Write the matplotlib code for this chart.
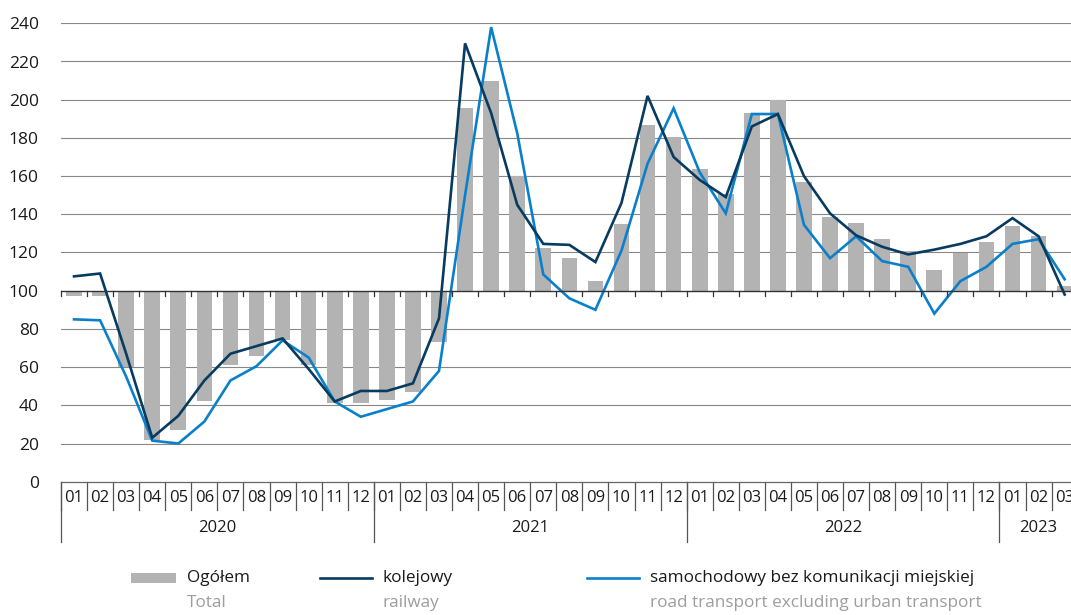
import matplotlib
matplotlib.use("Agg")
import matplotlib.pyplot as plt
from matplotlib.patches import Rectangle
from matplotlib.lines import Line2D
import numpy as np

plt.rcParams['font.family'] = ['Open Sans', 'DejaVu Sans']

months = ['01', '02', '03', '04', '05', '06', '07', '08', '09', '10', '11', '12'] * 3 + ['01', '02', '03']
years = ['2020', '2021', '2022', '2023']
year_lengths = [12, 12, 12, 3]

ogolem = [97, 97, 60, 22, 27, 42, 61, 66, 74, 61, 41, 41,
          43, 47, 73, 195.5, 210, 160, 122.5, 117, 105, 135, 187, 180.5,
          163.5, 150.5, 193, 200, 157, 138.5, 135.5, 127, 121, 111, 120, 125.5,
          134, 128.5, 102.5]

kolejowy = [107.5, 109, 67, 23, 34.5, 53, 67, 71, 75, 59, 42, 47.5,
            47.5, 51.5, 85.5, 229.5, 193, 145, 124.5, 124, 115, 146, 202, 170,
            158, 149, 186, 192.5, 160, 140.5, 129, 123, 119, 121.5, 124.5, 128.5,
            138, 128.5, 98]

samochodowy = [85, 84.5, 55, 21.5, 20, 31.5, 53, 60.5, 74, 65, 42, 34,
               38, 42, 58, 150, 238, 182.5, 108.5, 96, 90, 121, 166.5, 195.5,
               162, 140.5, 192.5, 192.5, 134.5, 117, 128.5, 115.5, 112.5, 88, 105, 112.5,
               124.5, 127, 106]

legend_pl = ['Ogółem', 'kolejowy', 'samochodowy bez komunikacji miejskiej']
legend_en = ['Total', 'railway', 'road transport excluding urban transport']

BAR = '#b3b3b3'
DARK = '#073b60'
LIGHT = '#0a80cc'
GRID = '#888888'

W, H = 1071, 615
fig = plt.figure(figsize=(W / 100, H / 100), dpi=100)
ax_l, ax_b = 61 / W, (H - 481.7) / H
ax_w, ax_h = 1016.7 / W, 458.4 / H
ax = fig.add_axes([ax_l, ax_b, ax_w, ax_h])

n = len(months)
x = np.arange(n)
base = 100
ax.bar(x, np.array(ogolem) - base, bottom=base, width=0.6, color=BAR, zorder=2)
ax.plot(x, kolejowy, color=DARK, lw=1.9, zorder=4, solid_joinstyle='miter')
ax.plot(x, samochodowy, color=LIGHT, lw=1.9, zorder=3, solid_joinstyle='miter')

ax.set_xlim(-0.5, n - 0.5)
ax.set_ylim(0, 240)
ax.set_yticks(np.arange(0, 241, 20))
ax.set_yticklabels([str(v) for v in range(0, 241, 20)], fontsize=12.5, color='#1a1a1a')
ax.tick_params(axis='y', length=0, pad=16)
for lab in ax.get_yticklabels():
    lab.set_horizontalalignment('right')
ax.set_xticks([])
for s in ax.spines.values():
    s.set_visible(False)

for v in range(20, 241, 20):
    if v == 100:
        continue
    ax.axhline(v, color=GRID, lw=0.8, zorder=1)
ax.axhline(100, color='#333333', lw=1.0, zorder=5)
ax.axhline(0, color='#666666', lw=0.9, zorder=5, clip_on=False)

# ticks on the 100 line at category boundaries
for b in np.arange(-0.5, n, 1.0):
    ax.plot([b, b], [100, 97], color='#333333', lw=0.9, zorder=5, clip_on=False)

# category axis below
tr = ax.get_xaxis_transform()
for i, m in enumerate(months):
    ax.text(i, -0.036, m, transform=tr, ha='center', va='center', fontsize=12, color='#1a1a1a')
for b in np.arange(-0.5, n, 1.0):
    ax.plot([b, b], [0, -0.062], transform=tr, color='#555555', lw=0.9, clip_on=False)
start = 0
for yr, ln in zip(years, year_lengths):
    ax.plot([start - 0.5, start - 0.5], [0, -0.131], transform=tr, color='#555555', lw=0.9, clip_on=False)
    ax.text(start + ln / 2 - 0.5, -0.101, yr, transform=tr, ha='center', va='center', fontsize=12, color='#1a1a1a')
    start += ln

# legend
def fy(py):
    return 1 - py / H

fig.patches.append(Rectangle((131 / W, fy(583)), 45 / W, 10 / H, transform=fig.transFigure,
                             facecolor=BAR, edgecolor='none'))
fig.lines.append(Line2D([320 / W, 372 / W], [fy(578), fy(578)], transform=fig.transFigure, color=DARK, lw=1.9))
fig.lines.append(Line2D([587 / W, 639 / W], [fy(578), fy(578)], transform=fig.transFigure, color=LIGHT, lw=1.9))
for xp, pl, en in zip([187, 382, 650], legend_pl, legend_en):
    fig.text(xp / W, fy(578), pl, ha='left', va='center', fontsize=12.3, color='#1a1a1a')
    fig.text(xp / W, fy(603), en, ha='left', va='center', fontsize=12.3, color='#9d9d9d')

fig.savefig('out.png', dpi=100)
